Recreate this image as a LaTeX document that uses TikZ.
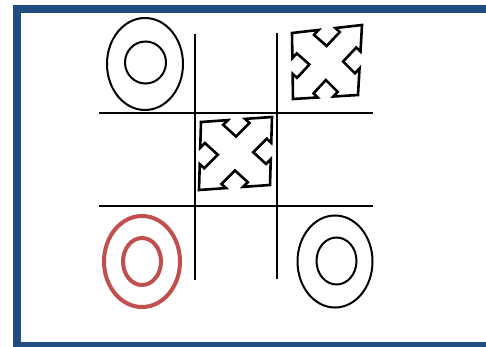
\documentclass[tikz,border=0pt]{standalone}
\usetikzlibrary{calc}
\definecolor{framebl}{RGB}{33,77,128}
\definecolor{ored}{RGB}{192,80,77}
\tikzset{
  grid/.style={line width=2.4pt},
  oblack/.style={line width=2pt, draw=black},
  ored/.style={line width=4pt, draw=ored},
  icon/.style={line width=2.6pt, line join=miter},
}
\newcommand\moveicon[5]{%
  \foreach \u/\v [count=\i] in {0/0,0.38/0,0.315/0.065,0.5/0.25,0.685/0.065,0.62/0,1/0,
      1/0.38,0.935/0.315,0.75/0.5,0.935/0.685,1/0.62,1/1,
      0.62/1,0.685/0.935,0.5/0.75,0.315/0.935,0.38/1,0/1,
      0/0.62,0.065/0.685,0.25/0.5,0.065/0.315,0/0.38}
    {\coordinate (#1-\i) at ($ ($(#2)!\u!(#3)$)!\v!($(#5)!\u!(#4)$) $);}
  \draw[icon] (#1-1) \foreach \i in {2,...,24} {-- (#1-\i)} -- cycle;
}
\begin{document}
\begin{tikzpicture}[x=1pt,y=-1pt]
\useasboundingbox (0,0) rectangle (486,347);
\clip (0,0) rectangle (486,347);
\fill[white] (0,0) rectangle (486,347);
% frame
\draw[framebl, line width=8pt] (17,9) rectangle (494,346);
% grid
\coordinate (v1t) at (195,34); \coordinate (v1b) at (195,280);
\coordinate (v2t) at (277,33); \coordinate (v2b) at (277,279);
\coordinate (h1l) at (99,113); \coordinate (h1r) at (373,113);
\coordinate (h2l) at (99,206); \coordinate (h2r) at (373,206);
\draw[grid] (v1t) -- (v1b);
\draw[grid] (v2t) -- (v2b);
\draw[grid] (h1l) -- (h1r);
\draw[grid] (h2l) -- (h2r);
% O top-left
\draw[oblack] (145,64) ellipse [x radius=38, y radius=46];
\draw[oblack] (145.5,62.5) ellipse [x radius=20.5, y radius=21];
% O bottom-right
\draw[oblack] (335,261.5) ellipse [x radius=37.5, y radius=46];
\draw[oblack] (336.5,261) ellipse [x radius=20, y radius=23.5];
% red O
\draw[ored] (142,261.5) ellipse [x radius=38, y radius=45.5];
\draw[ored] (142,261.5) ellipse [x radius=19, y radius=23.5];
% move icons
\coordinate (aTL) at (292,33); \coordinate (aTR) at (362,25);
\coordinate (aBR) at (358,95); \coordinate (aBL) at (293,99);
\moveicon{a}{aTL}{aTR}{aBR}{aBL}
\coordinate (bTL) at (201,122); \coordinate (bTR) at (272,117);
\coordinate (bBR) at (270,185); \coordinate (bBL) at (199,190);
\moveicon{b}{bTL}{bTR}{bBR}{bBL}
\end{tikzpicture}
\end{document}
